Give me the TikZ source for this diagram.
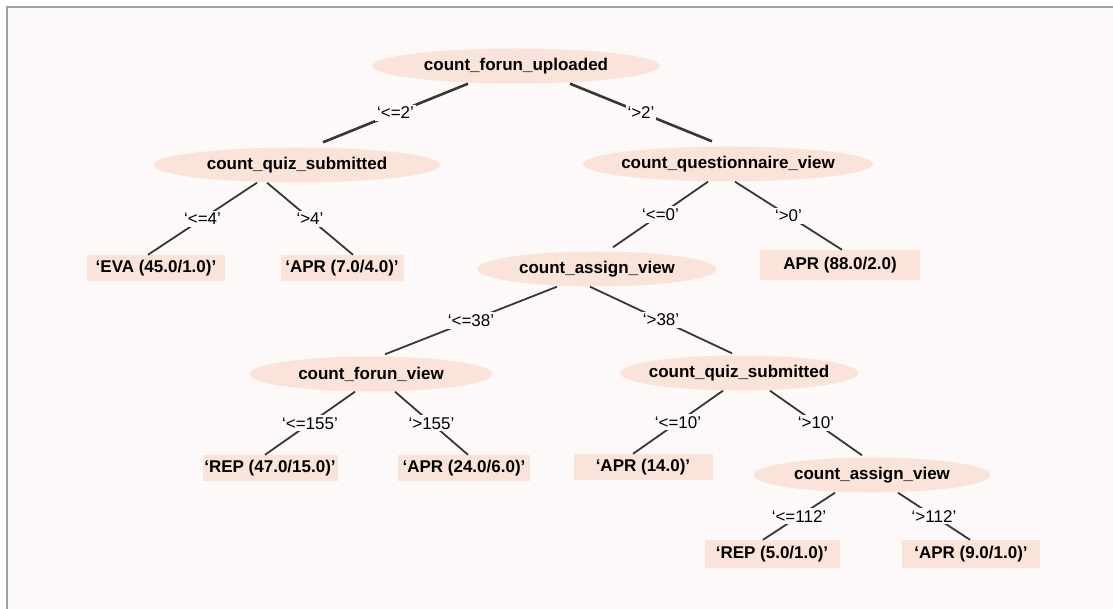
\documentclass[tikz,border=0pt]{standalone}
\usepackage{fontspec}
\setmainfont{Liberation Sans}
\usetikzlibrary{shapes.geometric}
\definecolor{peach}{RGB}{250,227,216}
\definecolor{paper}{RGB}{253,249,249}
\definecolor{framegray}{RGB}{160,160,160}
\definecolor{edgeline}{RGB}{55,55,55}

\begin{document}
\begin{tikzpicture}[x=1pt,y=-1pt,
  attr/.style={ellipse,fill=peach,inner xsep=-8pt,inner ysep=0pt,minimum height=35pt,
    font=\fontsize{17}{20}\selectfont\bfseries},
  leaf/.style={rectangle,fill=peach,inner sep=0pt,minimum height=26pt,
    font=\fontsize{17}{20}\selectfont\bfseries},
  cond/.style={midway,fill=paper,inner sep=2pt,font=\fontsize{17}{20}\selectfont},
  branch/.style={draw=edgeline,line width=1.8pt}]
\useasboundingbox (0,0) rectangle (1113,609);
\fill[white] (0,0) rectangle (1113,609);
\fill[paper] (7,7) rectangle (1113,609);
\draw[framegray,line width=2pt] (7,609) -- (7,7) -- (1113,7);

\node[attr,minimum width=287pt] (root) at (516,66) {count\_forun\_uploaded};
\node[attr,minimum width=287pt] (quiz) at (297,165) {count\_quiz\_submitted};
\node[attr,minimum width=290pt] (quest) at (728,164) {count\_questionnaire\_view};
\node[leaf,minimum width=138pt] (eva) at (156,268) {`EVA (45.0/1.0)'};
\node[leaf,minimum width=123pt] (apr7) at (342,268) {`APR (7.0/4.0)'};
\node[attr,minimum width=239pt] (assign) at (597,269) {count\_assign\_view};
\node[leaf,minimum width=160pt,minimum height=30pt] (apr88) at (840,265) {APR (88.0/2.0)};
\node[attr,minimum width=243pt] (forum) at (371,374) {count\_forun\_view};
\node[attr,minimum width=238pt] (quiz2) at (739,373) {count\_quiz\_submitted};
\node[leaf,minimum width=135pt] (rep47) at (270,468) {`REP (47.0/15.0)'};
\node[leaf,minimum width=132pt] (apr24) at (464,468) {`APR (24.0/6.0)'};
\node[leaf,minimum width=139pt] (apr14) at (643,467) {`APR (14.0)'};
\node[attr,minimum width=237pt] (assign2) at (872,475) {count\_assign\_view};
\node[leaf,minimum width=135pt,minimum height=28pt] (rep5) at (772,554) {`REP (5.0/1.0)'};
\node[leaf,minimum width=138pt,minimum height=28pt] (apr9) at (971,554) {`APR (9.0/1.0)'};

\draw[branch,line width=2.6pt] ([xshift=-48pt]root.south) -- ([xshift=26pt,yshift=5pt]quiz.north) node[cond] {`<=2'};
\draw[branch,line width=2.6pt] ([xshift=54pt]root.south) -- ([xshift=-16pt,yshift=5pt]quest.north) node[cond] {`>2'};
\draw[branch] ([xshift=-40pt]quiz.south) -- ([xshift=-8pt]eva.north) node[cond] {`<=4'};
\draw[branch] ([xshift=-30pt]quiz.south) -- ([xshift=11pt]apr7.north) node[cond] {`>4'};
\draw[branch] ([xshift=-20pt]quest.south) -- ([xshift=16pt,yshift=4pt]assign.north) node[cond] {`<=0'};
\draw[branch] ([xshift=7pt]quest.south) -- ([xshift=2pt]apr88.north) node[cond] {`>0'};
\draw[branch] ([xshift=-40pt]assign.south) -- ([xshift=14pt,yshift=2pt]forum.north) node[cond] {`<=38'};
\draw[branch] ([xshift=-7pt]assign.south) -- ([xshift=-7pt,yshift=2pt]quiz2.north) node[cond] {`>38'};
\draw[branch] ([xshift=-16pt]forum.south) -- ([xshift=-5pt]rep47.north) node[cond] {`<=155'};
\draw[branch] ([xshift=24pt]forum.south) -- ([xshift=4pt]apr24.north) node[cond] {`>155'};
\draw[branch] ([xshift=-16pt]quiz2.south) -- ([xshift=-10pt]apr14.north) node[cond] {`<=10'};
\draw[branch] ([xshift=31pt]quiz2.south) -- ([xshift=-10pt,yshift=2pt]assign2.north) node[cond] {`>10'};
\draw[branch] ([xshift=-37pt]assign2.south) -- ([xshift=-9pt]rep5.north) node[cond] {`<=112'};
\draw[branch] ([xshift=26pt]assign2.south) -- ([xshift=-1pt]apr9.north) node[cond] {`>112'};
\end{tikzpicture}
\end{document}
